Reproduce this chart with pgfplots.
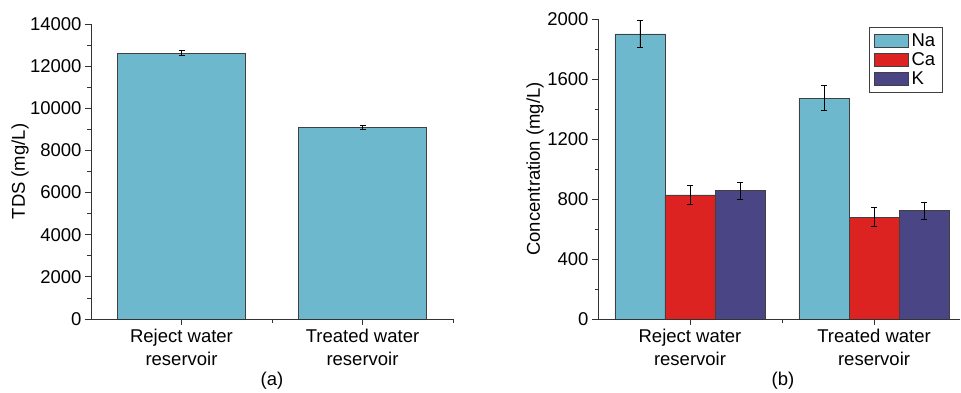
\documentclass[border=0pt]{standalone}
\usepackage{fontspec}
\setmainfont{Liberation Sans}
\usepackage{pgfplots}
\pgfplotsset{compat=1.18}
\definecolor{naC}{HTML}{6DB8CC}
\definecolor{caC}{HTML}{DD2222}
\definecolor{kC}{HTML}{4A4585}
\newcommand{\ff}{\fontsize{18.5bp}{22.5bp}\selectfont}
\pgfplotsset{
  mystyle/.style={
    scale only axis,
    axis x line=bottom, axis y line=left,
    axis line style={-, line width=0.8bp, black!80},
    every tick/.style={line width=0.8bp, black!80},
    tick align=outside,
    major tick length=6bp, minor tick length=3.5bp,
    ymin=0,
    xtick={0,1},
    xticklabels={{Reject water\\reservoir},{Treated water\\reservoir}},
    minor xtick={0.5,1.5},
    xticklabel style={align=center, font=\ff, yshift=-1bp},
    yticklabel style={font=\ff},
    label style={font=\ff},
    /pgf/number format/assume math mode=true,
    /pgf/number format/1000 sep={},
    scaled y ticks=false,
    enlargelimits=false,
    error bars/error bar style={black, line width=0.8bp},
    error bars/error mark options={black, rotate=90, mark size=3bp, line width=0.8bp},
  },
  mybar/.style={draw=black!75, line width=0.8bp,
    legend image code/.code={\draw[##1] (0bp,-6.5bp) rectangle (34bp,6.5bp);}},
}
\begin{document}
\begin{tikzpicture}
\path (0,0) rectangle (961bp,389bp);
\begin{axis}[mystyle,
  at={(91bp,70bp)}, anchor=south west,
  width=362bp, height=295bp,
  xmin=-0.5, xmax=1.5, ymax=14000,
  ytick={0,2000,...,14000}, minor y tick num=1,
  ybar, bar width=0.71,
  ylabel={TDS (mg/L)},
  ylabel style={at={(axis description cs:-0.196,0.5)}, anchor=center, rotate=0},
  xlabel={(a)},
  xlabel style={at={(axis description cs:0.5,-0.21)}, anchor=center},
]
\addplot[mybar, fill=naC, error bars/.cd, y dir=both, y explicit]
  coordinates {(0,12620) +- (0,110) (1,9110) +- (0,100)};
\end{axis}
\begin{axis}[mystyle,
  at={(598bp,70bp)}, anchor=south west,
  width=362bp, height=300bp,
  xmin=-0.5, xmax=1.467, ymax=2000,
  ytick={0,400,...,2000}, minor y tick num=1,
  ybar=0pt, bar width=0.272,
  ylabel={Concentration (mg/L)},
  ylabel style={at={(axis description cs:-0.174,0.5)}, anchor=center, rotate=0},
  xlabel={(b)},
  xlabel style={at={(axis description cs:0.511,-0.205)}, anchor=center},
  legend style={at={(axis cs:1.375,1947)}, anchor=north east, draw=black!75,
    line width=0.8bp, font=\ff, row sep=0bp, inner xsep=5bp, inner ysep=3.5bp,
    nodes={inner sep=2.5bp}},
  legend cell align=left,
]
\addplot[mybar, fill=naC, error bars/.cd, y dir=both, y explicit]
  coordinates {(0,1900) +- (0,88) (1,1473) +- (0,82)};
\addplot[mybar, fill=caC, error bars/.cd, y dir=both, y explicit]
  coordinates {(0,827) +- (0,64) (1,678) +- (0,64)};
\addplot[mybar, fill=kC, error bars/.cd, y dir=both, y explicit]
  coordinates {(0,855) +- (0,58) (1,722) +- (0,58)};
\legend{Na,Ca,K}
\end{axis}
\end{tikzpicture}
\end{document}
